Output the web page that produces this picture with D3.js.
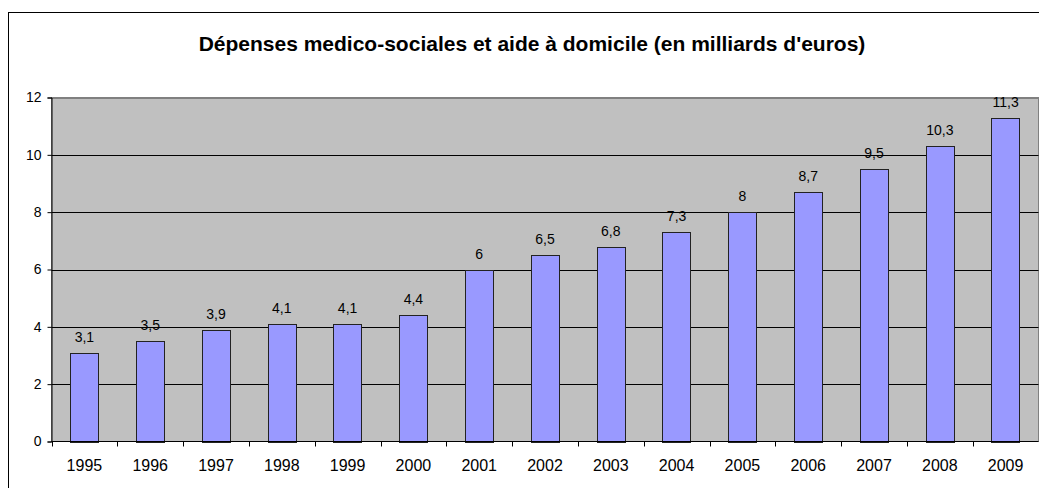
<!DOCTYPE html>
<html>
<head>
<meta charset="utf-8">
<script src="https://cdn.jsdelivr.net/npm/d3@7"></script>
<style>
  html, body { margin: 0; padding: 0; background: #fff; }
  svg { display: block; }
  text { font-family: "Liberation Sans", Arial, sans-serif; fill: #000; }
</style>
</head>
<body>
<svg id="chart" width="1039" height="488"></svg>
<script>
// Annual spending, billions of euros
const years = ["1995","1996","1997","1998","1999","2000","2001","2002","2003","2004","2005","2006","2007","2008","2009"];
const values = [3.1, 3.5, 3.9, 4.1, 4.1, 4.4, 6, 6.5, 6.8, 7.3, 8, 8.7, 9.5, 10.3, 11.3];
const yTicks = [0, 2, 4, 6, 8, 10, 12];
const title = "Dépenses medico-sociales et aide à domicile (en milliards d'euros)";

const svg = d3.select("#chart");
const W = 1039, H = 488;
const plot = { left: 51.5, right: 1038.5, top: 97.5, bottom: 441.5 };

// Outer chart frame
svg.append("rect")
  .attr("x", 8.5).attr("y", 12.5)
  .attr("width", W + 10).attr("height", H + 10)
  .attr("fill", "#fff").attr("stroke", "#000").attr("stroke-width", 1);

svg.append("text")
  .attr("x", 532).attr("y", 51)
  .attr("text-anchor", "middle")
  .style("font-size", "21px").style("font-weight", "bold")
  .text(title);

const x = d3.scaleBand().domain(years).range([plot.left, plot.right])
  .paddingInner(0.57).paddingOuter(0.285);
const band = (plot.right - plot.left) / years.length;
const y = d3.scaleLinear().domain([0, 12]).range([plot.bottom, plot.top]);

// Plot background
svg.append("rect")
  .attr("x", plot.left).attr("y", plot.top)
  .attr("width", plot.right - plot.left).attr("height", plot.bottom - plot.top)
  .attr("fill", "#c0c0c0").attr("stroke", "#808080");

// Gridlines
svg.append("g").selectAll("line").data(yTicks.filter(d => d > 0)).join("line")
  .attr("x1", plot.left).attr("x2", plot.right)
  .attr("y1", d => Math.round(y(d)) + 0.5).attr("y2", d => Math.round(y(d)) + 0.5)
  .attr("stroke", d => d === 12 ? "#808080" : "#000");

// Bars
svg.append("g").selectAll("rect").data(values).join("rect")
  .attr("x", (d, i) => Math.round(x(years[i])) + 0.5)
  .attr("width", Math.round(x.bandwidth()))
  .attr("y", d => Math.round(y(d)) + 0.5)
  .attr("height", d => Math.round(plot.bottom) - Math.round(y(d)))
  .attr("fill", "#9999ff").attr("stroke", "#222").attr("stroke-width", 1);

// Value labels
svg.append("g").selectAll("text").data(values).join("text")
  .attr("x", (d, i) => x(years[i]) + x.bandwidth() / 2)
  .attr("y", d => y(d) - 11)
  .attr("text-anchor", "middle")
  .style("font-size", "14px")
  .text(d => d3.format(".1~f")(d).replace(".", ","));

// Y axis
const yAxis = d3.axisLeft(y).tickValues(yTicks).tickSize(4).tickPadding(6);
const gy = svg.append("g").attr("transform", `translate(${plot.left},0)`).call(yAxis);
gy.select(".domain").attr("stroke", "#000");
gy.selectAll(".tick line").attr("stroke", "#000");
gy.selectAll(".tick text").style("font-size", "14px").style("font-family", "'Liberation Sans', Arial, sans-serif");

// X axis with ticks between categories
const gx = svg.append("g").attr("transform", `translate(0,${plot.bottom})`);
gx.append("line").attr("x1", plot.left).attr("x2", plot.right).attr("stroke", "#000");
gx.selectAll("line.tk").data(d3.range(years.length + 1)).join("line")
  .attr("class", "tk")
  .attr("x1", i => Math.round(plot.left + i * band) + 0.5)
  .attr("x2", i => Math.round(plot.left + i * band) + 0.5)
  .attr("y1", 0).attr("y2", 5).attr("stroke", "#000");
gx.selectAll("text").data(years).join("text")
  .attr("x", d => x(d) + x.bandwidth() / 2)
  .attr("y", 29)
  .attr("text-anchor", "middle")
  .style("font-size", "16px")
  .text(d => d);
</script>
</body>
</html>
